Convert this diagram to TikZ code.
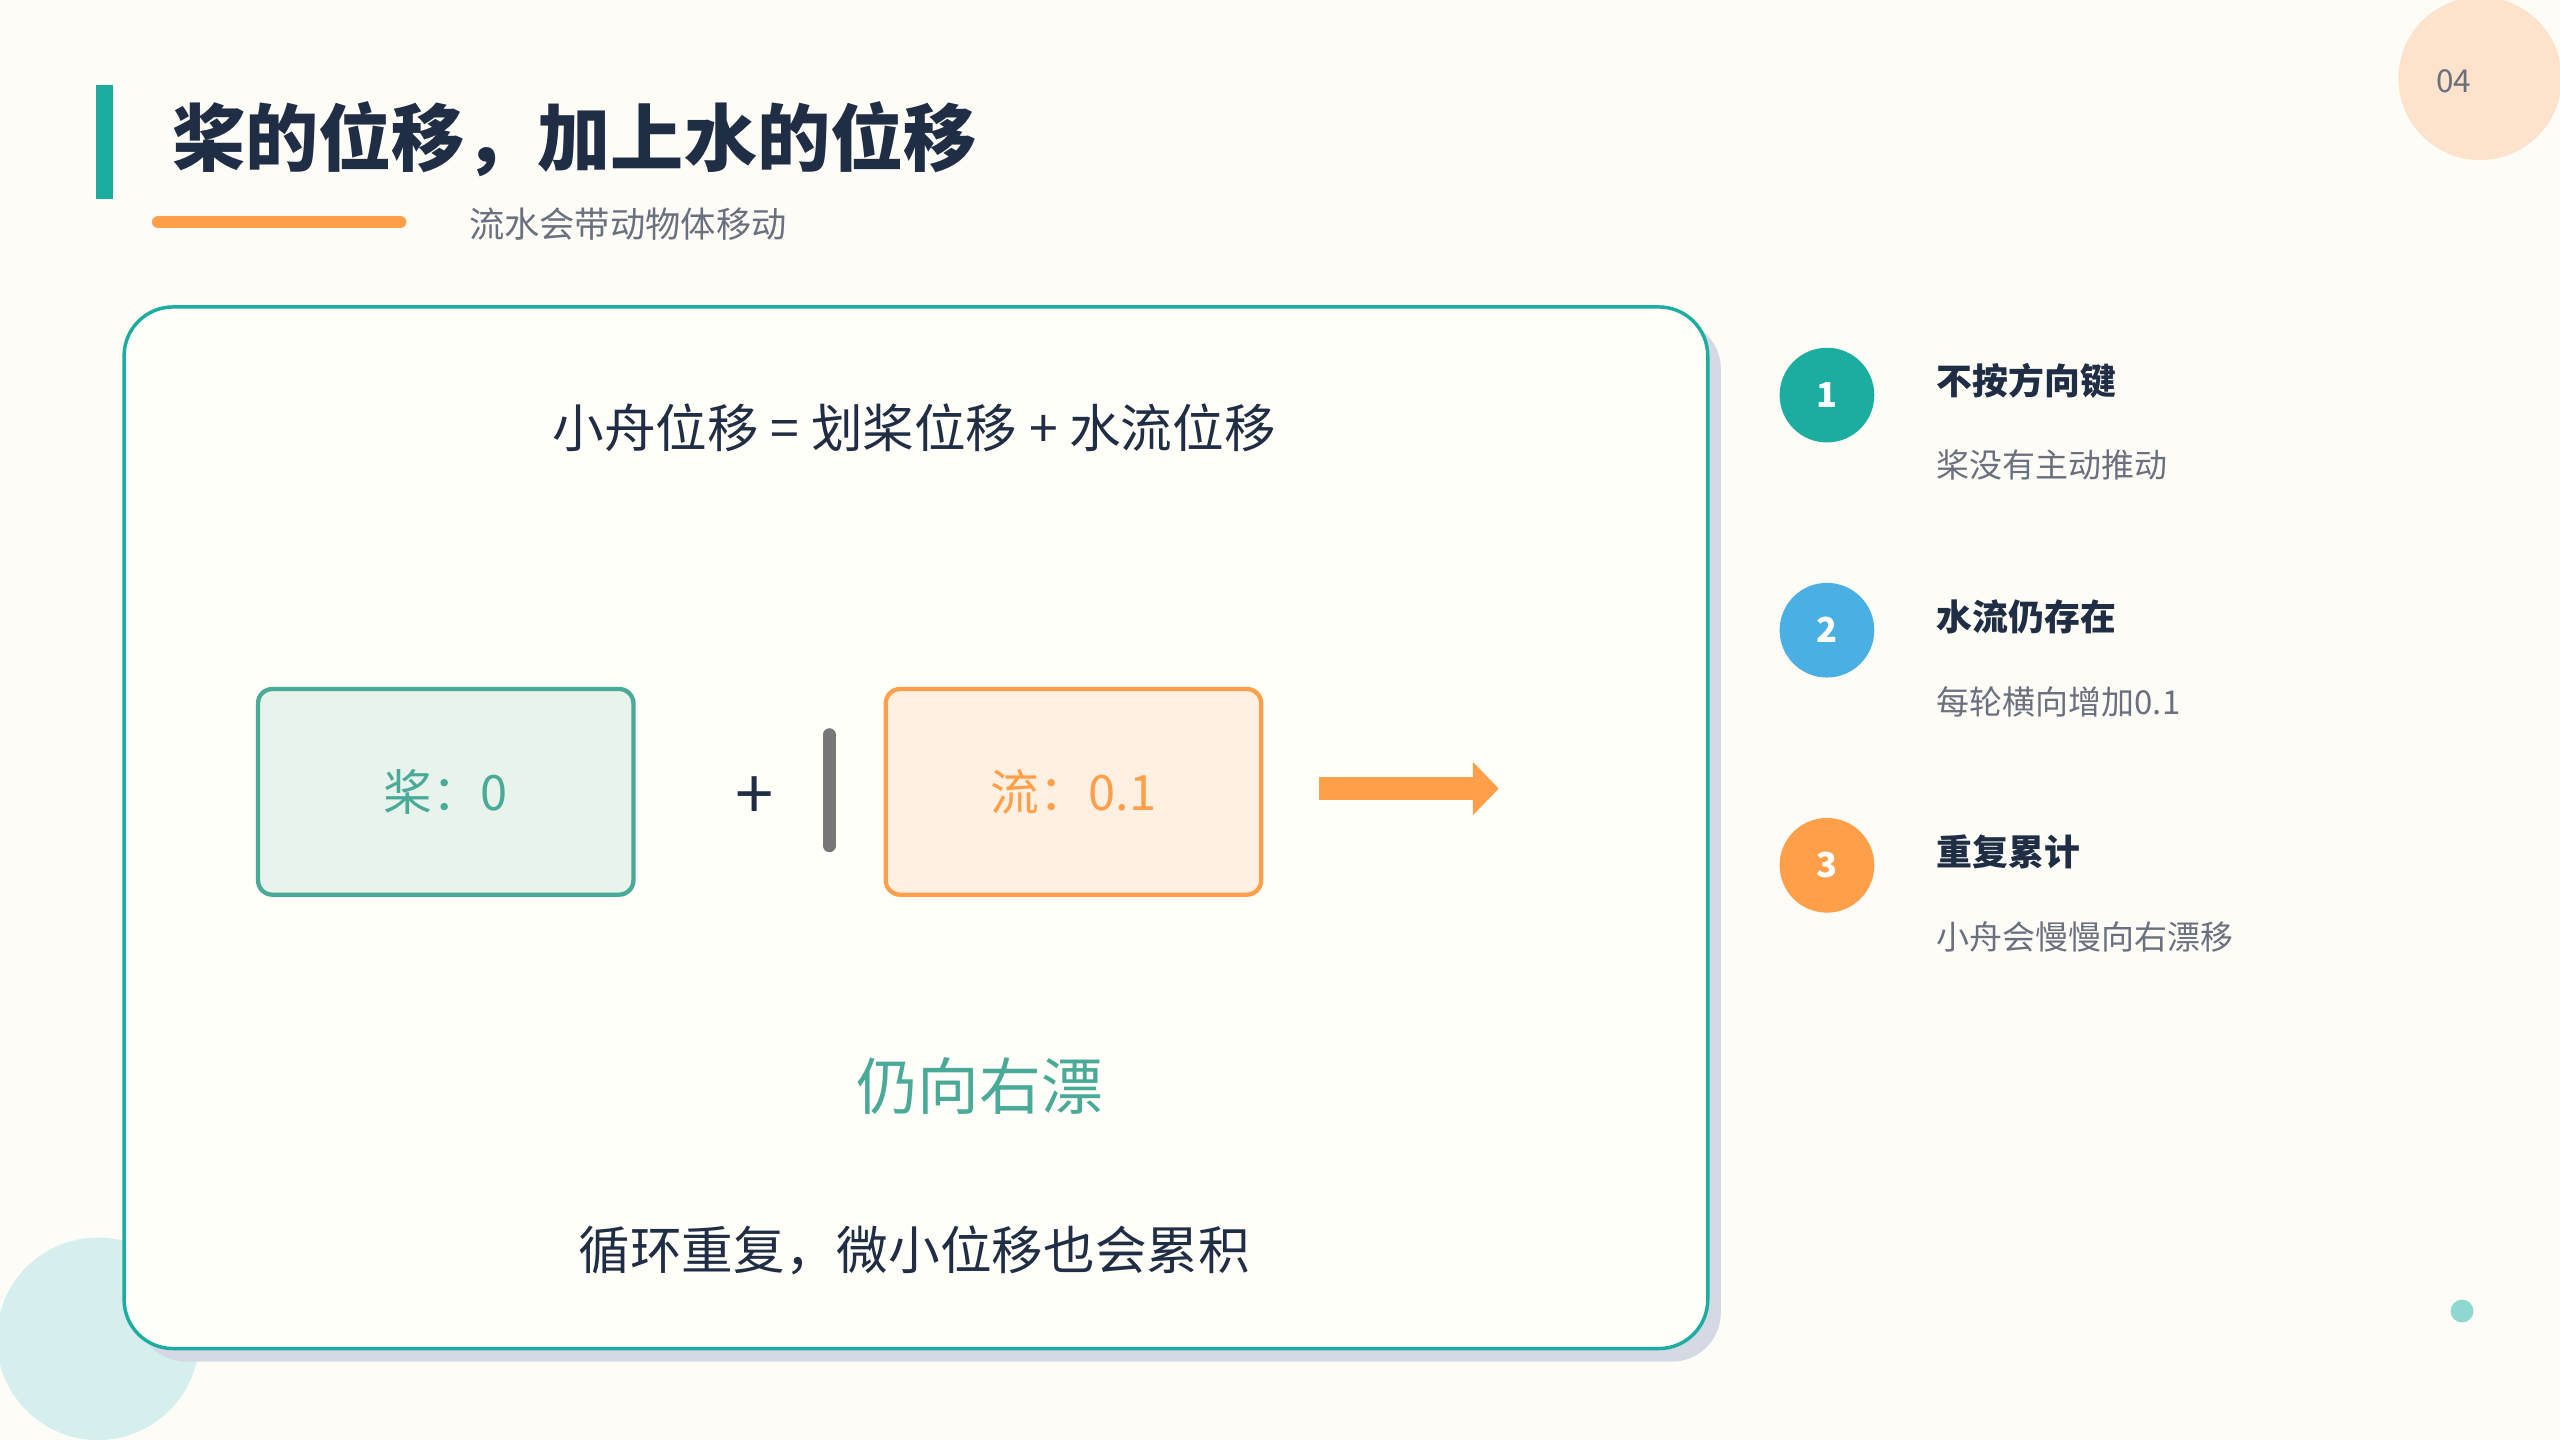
\documentclass[tikz,border=0pt]{standalone}
\usepackage{fontspec}
\setmainfont{Noto Sans CJK SC}
\usetikzlibrary{arrows.meta}
\definecolor{bg}{HTML}{FDFCF6}
\definecolor{teal}{HTML}{1AADA0}
\definecolor{tealt}{HTML}{4AAA98}
\definecolor{dark}{HTML}{1F2D45}
\definecolor{gray1}{HTML}{6B7080}
\definecolor{orng}{HTML}{FF9F4A}
\definecolor{blu}{HTML}{4AB0E4}
\tikzset{
 fs/.style={font=\fontsize{#1}{#1}\selectfont},
 stepc/.style={circle,minimum size=1.16cm,inner sep=0,text=white,font=\fontsize{12}{12}\selectfont\bfseries},
 stitle/.style={anchor=west,text=dark,font=\fontsize{12.5}{14}\selectfont\bfseries},
 sdesc/.style={anchor=west,text=gray1,font=\fontsize{11.5}{14}\selectfont},
 vbox/.style={rectangle,rounded corners=5pt,line width=1.5pt,minimum width=4.6cm,minimum height=2.52cm,font=\fontsize{17}{17}\selectfont}
}
\begin{document}
\begin{tikzpicture}[x=0.02cm,y=-0.02cm]
\fill[bg] (0,0) rectangle (1568,882);
\useasboundingbox (0,0) rectangle (1568,882);
\fill[fill={rgb,255:red,253;green,227;blue,204}] (1519,48) circle (50);
\node[text=gray1,fs=11] (pg) at (1503,50) {04};
\fill[fill={rgb,255:red,213;green,239;blue,238}] (60,820) circle (62);
\fill[fill={rgb,255:red,143;green,216;blue,210}] (1508,803) circle (7);
\fill[teal] (59,52) rectangle (69,122);
\node[anchor=west,text=dark,font=\fontsize{25.5}{28}\selectfont\bfseries,inner sep=0] (title) at (105,85) {桨的位移，加上水的位移};
\draw[orng,line width=4.5pt,line cap=round] (97,136) -- (245,136);
\node[anchor=west,text=gray1,fs=12.3,inner sep=0] (sub) at (287,137) {流水会带动物体移动};
% card
\fill[fill={rgb,255:red,213;green,217;blue,227},rounded corners=0.6cm] (84,196) rectangle (1054,834);
\draw[fill={rgb,255:red,255;green,254;blue,249},draw=teal,line width=1.2pt,rounded corners=0.6cm] (76,188) rectangle (1046,826);
\node[text=dark,fs=18] (eq) at (560,262) {小舟位移 = 划桨位移 + 水流位移};
\node[vbox,fill={rgb,255:red,232;green,243;blue,236},draw=tealt,text=tealt] (b1) at (273,485) {桨：0};
\node[text=dark,fs=24] (plus) at (462,489) {+};
\draw[line width=4.5pt,color={rgb,255:red,119;green,119;blue,119},line cap=round] (508,450) -- (508,518);
\node[vbox,fill={rgb,255:red,255;green,240;blue,226},draw=orng,text=orng] (b2) at (657.5,485) {流：0.1};
\coordinate (a1) at (808,483);
\coordinate (a2) at (918,483);
\draw[orng,line width=8pt,-{Triangle[length=9pt,width=18pt]}] (a1) -- (a2);
\node[text=tealt,fs=21.5] (drift) at (600,665) {仍向右漂};
\node[text=dark,fs=18] (loop) at (560,766) {循环重复，微小位移也会累积};
% steps
\node[stepc,fill=teal] (s1) at (1119,242) {1};
\node[stepc,fill=blu] (s2) at (1119,386) {2};
\node[stepc,fill=orng] (s3) at (1119,530) {3};
\node[stitle] (t1) at (1180,233) {不按方向键};
\node[sdesc] (d1) at (1180,285) {桨没有主动推动};
\node[stitle] (t2) at (1180,378) {水流仍存在};
\node[sdesc] (d2) at (1180,430) {每轮横向增加0.1};
\node[stitle] (t3) at (1180,522) {重复累计};
\node[sdesc] (d3) at (1180,574) {小舟会慢慢向右漂移};
\end{tikzpicture}
\end{document}
